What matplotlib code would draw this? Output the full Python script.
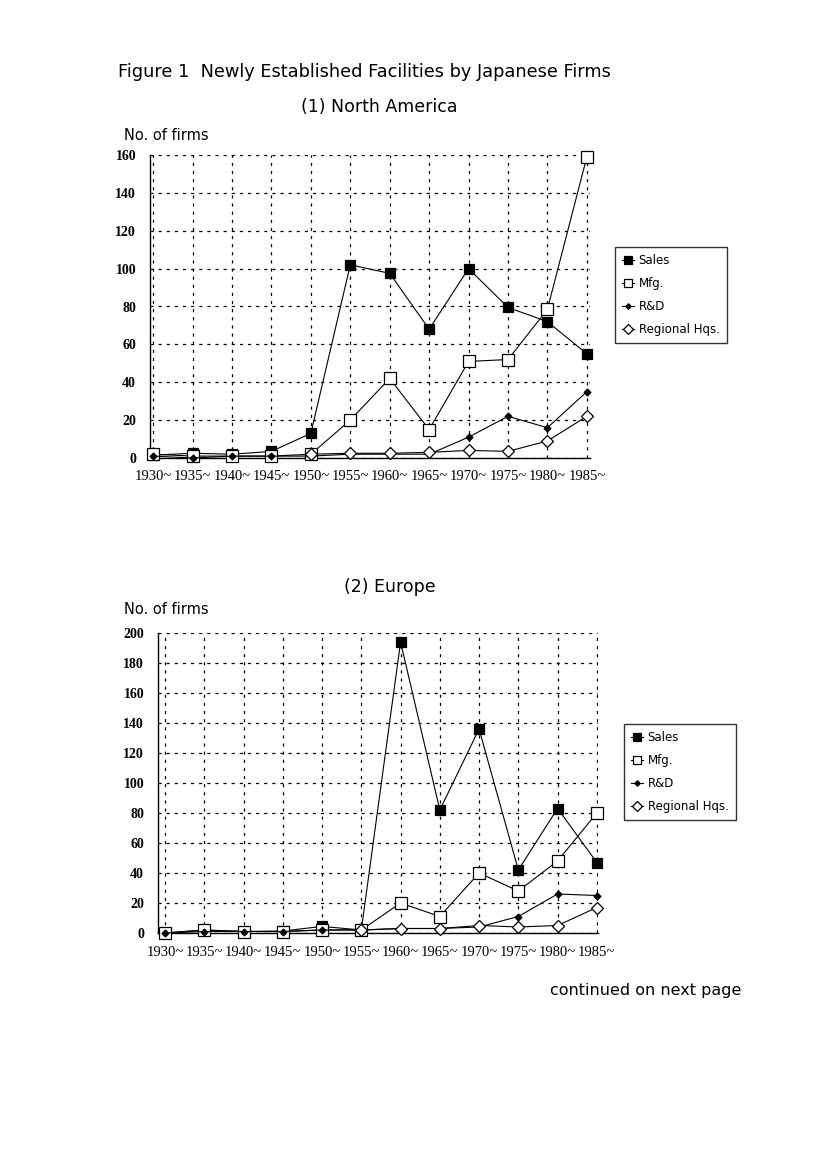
import numpy as np
import matplotlib
matplotlib.use("Agg")
from matplotlib import pyplot as plt

# Data
periods = ["1930", "1935", "1940", "1945", "1950", "1955",
           "1960", "1965", "1970", "1975", "1980", "1985"]
tick_labels = [p + "~" for p in periods]

na_sales = [1.5, 2.5, 2, 3.5, 13, 102, 97.5, 68, 100, 79.5, 72, 55]
na_mfg = [2, 1, 1, 1, 2, 20, 42, 15, 51, 52, 78.5, 159]
na_rd = [1, 0, 1, 1, 1, 2, 2, 2, 11, 22, 16, 35]
na_hqs = [None, None, None, None, 2, 2.5, 2.5, 3, 4, 3.5, 9, 22]

eu_sales = [0, 2, 1, 1.3, 4.4, 2, 194, 82, 136, 42, 83, 47]
eu_mfg = [0, 2, 1, 1, 2, 2, 20, 11, 40, 28, 48, 80]
eu_rd = [0, 1, 1, 1, 2, 2, 3, 3, 4, 11, 26, 25]
eu_hqs = [None, None, None, None, None, 2, 3, 3, 5, 4, 5, 17]

series_names = ["Sales", "Mfg.", "R&D", "Regional Hqs."]

serif = "Liberation Serif"
sans = "DejaVu Sans"

fig = plt.figure(figsize=(8.27, 11.70), dpi=100)
fig.patch.set_facecolor("white")


def draw_panel(ax, sales, mfg, rd, hqs, ymax, ystep, xlim):
    x = np.arange(len(periods))
    styles = [
        dict(marker="s", markersize=6.5, markerfacecolor="black"),
        dict(marker="s", markersize=8, markerfacecolor="white"),
        dict(marker="D", markersize=3.5, markerfacecolor="black"),
        dict(marker="D", markersize=6, markerfacecolor="white"),
    ]
    lines = []
    for vals, st in zip([sales, mfg, rd, hqs], styles):
        v = np.array([np.nan if y is None else y for y in vals], dtype=float)
        ln, = ax.plot(x, v, color="black", linewidth=0.8,
                      markeredgecolor="black", markeredgewidth=0.9,
                      clip_on=False, zorder=3, **st)
        lines.append(ln)
    ax.set_xlim(*xlim)
    ax.set_ylim(0, ymax)
    ax.set_xticks(x)
    ax.set_xticklabels(tick_labels, fontfamily=serif, fontsize=10.5)
    ax.set_yticks(np.arange(0, ymax + 1, ystep))
    ax.set_yticklabels([str(int(t)) for t in np.arange(0, ymax + 1, ystep)],
                       fontfamily=serif, fontsize=10, fontweight="bold")
    ax.tick_params(axis="x", length=0, pad=9)
    ax.tick_params(axis="y", length=0, pad=10)
    ax.grid(True, color="black", linestyle=(0, (2.5, 4)), linewidth=0.9)
    ax.set_axisbelow(True)
    for s in ["top", "right"]:
        ax.spines[s].set_visible(False)
    ax.spines["left"].set_linewidth(1.0)
    ax.spines["bottom"].set_linewidth(1.0)
    return lines


def add_legend(lines, anchor):
    leg = fig.legend(lines, series_names, loc="upper left",
                     bbox_to_anchor=anchor,
                     prop={"family": sans, "size": 8.5}, frameon=True,
                     fancybox=False, edgecolor="black", handlelength=1.0,
                     handletextpad=0.4, borderpad=0.6, labelspacing=0.85,
                     borderaxespad=0, markerscale=0.8)
    leg.get_frame().set_linewidth(1.0)
    return leg


# (1) North America
ax1 = fig.add_axes([150 / 827, 1 - 458 / 1170, 440 / 827, 303 / 1170])
l1 = draw_panel(ax1, na_sales, na_mfg, na_rd, na_hqs, 160, 20, (-0.08, 11.08))
add_legend(l1, (615 / 827, 1 - 247 / 1170))

# (2) Europe
ax2 = fig.add_axes([158 / 827, 1 - 933 / 1170, 440 / 827, 300 / 1170])
l2 = draw_panel(ax2, eu_sales, eu_mfg, eu_rd, eu_hqs, 200, 20, (-0.18, 11.03))
add_legend(l2, (624 / 827, 1 - 724 / 1170))

# Text
fig.text(118 / 827, 1 - 72 / 1170, "Figure 1  Newly Established Facilities by Japanese Firms",
         fontfamily=sans, fontsize=12.8, va="center", ha="left")
fig.text(379 / 827, 1 - 107 / 1170, "(1) North America",
         fontfamily=sans, fontsize=12.5, va="center", ha="center")
fig.text(124 / 827, 1 - 135 / 1170, "No. of firms",
         fontfamily=sans, fontsize=10.5, va="center", ha="left")
fig.text(390 / 827, 1 - 587 / 1170, "(2) Europe",
         fontfamily=sans, fontsize=12.5, va="center", ha="center")
fig.text(124 / 827, 1 - 609 / 1170, "No. of firms",
         fontfamily=sans, fontsize=10.5, va="center", ha="left")
fig.text(550 / 827, 1 - 990 / 1170, "continued on next page",
         fontfamily=sans, fontsize=11.5, va="center", ha="left")

fig.savefig("out.png", dpi=100, facecolor="white")
